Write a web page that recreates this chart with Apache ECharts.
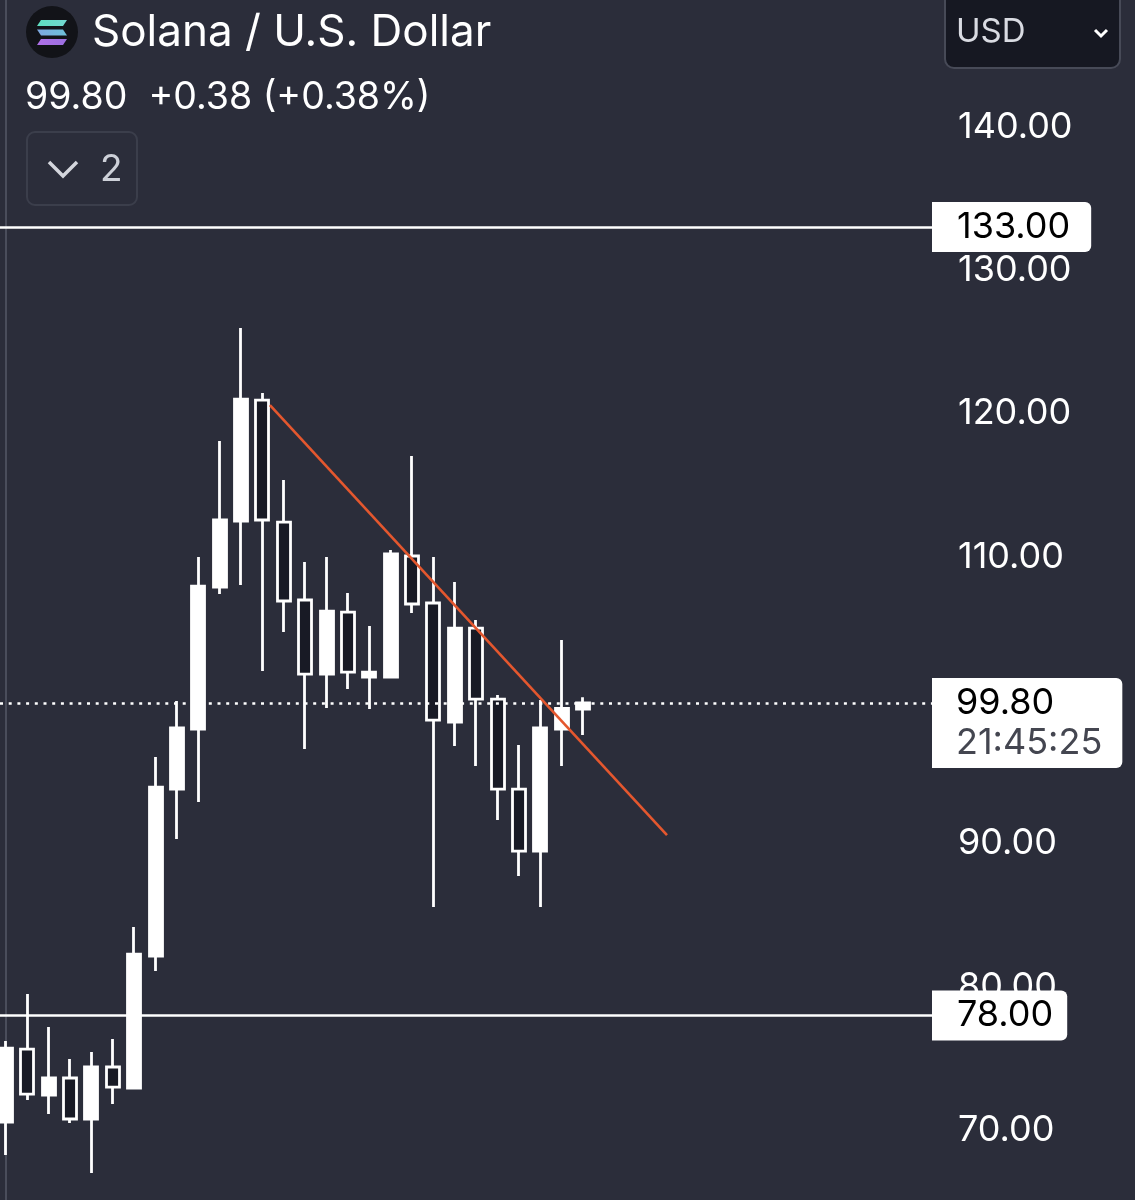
<!DOCTYPE html>
<html>
<head>
<meta charset="utf-8">
<script src="https://cdn.jsdelivr.net/npm/echarts@6/dist/echarts.min.js"></script>
<style>
  html, body { margin: 0; padding: 0; background: #2b2d3a; }
  #chart { width: 1135px; height: 1200px; }
</style>
</head>
<body>
<div id="chart"></div>
<script>
// ---- data ----
const opens  = [70.56,75.65,72.44,73.63,70.77,74.40,72.93,82.14,93.79,97.98,107.88,112.49,120.93,112.42,106.98,101.81,106.14,101.60,101.60,110.05,106.77,98.47,105.02,100.07,93.79,89.46,97.98,99.37];
const closes = [75.72,72.51,73.63,70.77,74.40,73.00,82.28,93.93,98.05,107.95,112.56,121.00,112.56,106.91,101.81,106.21,101.95,101.95,110.19,106.70,98.60,105.02,100.07,93.79,89.46,98.05,99.42,99.80];
const lows   = [68.26,72.09,71.12,70.49,67.00,71.81,72.93,81.09,90.30,92.88,107.40,108.02,102.02,104.74,96.58,99.44,100.77,99.37,101.53,106.07,85.56,96.79,95.40,91.63,87.72,85.56,95.40,97.56];
const highs  = [76.21,79.49,77.19,74.95,75.44,76.35,84.16,96.02,99.93,109.98,118.07,125.95,121.42,115.35,109.63,109.98,107.47,105.16,110.47,117.02,109.98,108.23,105.58,100.35,96.86,100.00,104.19,100.20];
const yTickValues = [70, 80, 90, 100, 110, 120, 130, 140];
const levelLines = [133, 78];
const lastPrice = 99.80;
const countdown = '21:45:25';
const trendX = [12.35, 30.93];
const trendY = [120.58, 90.58];
const titleText = 'Solana / U.S. Dollar';
const quoteText = '99.80  +0.38 (+0.38%)';

const candleData = opens.map((o, i) => [i, o, closes[i], lows[i], highs[i]]);
const trendData = trendX.map((x, i) => [x, trendY[i]]);

const FONT = 'Inter, "Noto Sans", sans-serif';
const chart = echarts.init(document.getElementById('chart'));

const whiteBox = (padR) => ({
  show: true, position: 'end', distance: 0,
  backgroundColor: '#ffffff', color: '#000000',
  fontFamily: FONT, fontSize: 36, lineHeight: 40,
  padding: [5, padR, 5, 25], borderRadius: [0, 6, 6, 0]
});

chart.setOption({
  animation: false,
  backgroundColor: '#2b2d3a',
  grid: { left: 0, right: 203, top: 0, bottom: 0 },
  xAxis: {
    type: 'value', min: -0.2808, max: 43.33, show: false
  },
  yAxis: {
    type: 'value', position: 'right', min: 65.12, max: 148.84,
    axisLine: { show: true, lineStyle: { color: '#4a4d5b', width: 2 } },
    axisTick: { show: false },
    splitLine: { show: false },
    axisLabel: {
      customValues: yTickValues,
      margin: 26, color: '#ffffff', fontFamily: FONT, fontSize: 36,
      formatter: v => v.toFixed(2)
    }
  },
  series: [
    {
      type: 'candlestick',
      data: candleData,
      barWidth: 13.5,
      itemStyle: {
        color: '#ffffff', color0: '#181a25',
        borderColor: '#ffffff', borderColor0: '#ffffff',
        borderWidth: 2.8
      },
      markLine: {
        symbol: 'none', silent: true,
        data: [
          { yAxis: levelLines[0], lineStyle: { color: '#ffffff', width: 2.6, type: 'solid' },
            label: Object.assign(whiteBox(21), { formatter: '133.00' }) },
          { yAxis: levelLines[1], lineStyle: { color: '#ffffff', width: 2.6, type: 'solid' },
            label: Object.assign(whiteBox(14), { formatter: '78.00' }) },
          { yAxis: lastPrice, lineStyle: { color: '#ffffff', width: 2.6, type: [3, 5.7], cap: 'butt' },
            label: {
              show: true, position: 'end', distance: 0, offset: [0, 20],
              backgroundColor: '#ffffff', padding: [5, 20, 5, 24], borderRadius: [0, 6, 6, 0],
              formatter: '{a|' + lastPrice.toFixed(2) + '}\n{b|' + countdown + '}',
              rich: {
                a: { color: '#000000', fontFamily: FONT, fontSize: 36, lineHeight: 40 },
                b: { color: '#444650', fontFamily: FONT, fontSize: 36, lineHeight: 40 }
              }
            } }
        ]
      }
    },
    {
      type: 'line',
      data: trendData,
      symbol: 'none',
      lineStyle: { color: '#e4572e', width: 2.6 },
      z: 5
    }
  ],
  graphic: [
    { type: 'circle', shape: { cx: 52, cy: 32, r: 26 }, style: { fill: '#121318' } },
    { type: 'polygon', shape: { points: [[41,20],[67,20],[63,26],[37,26]] },
      style: { fill: new echarts.graphic.LinearGradient(0,0,1,0,[{offset:0,color:'#5ee0c0'},{offset:1,color:'#72d6cf'}]) } },
    { type: 'polygon', shape: { points: [[37,29.5],[63,29.5],[67,35.5],[41,35.5]] },
      style: { fill: new echarts.graphic.LinearGradient(0,0,1,0,[{offset:0,color:'#7fa8e0'},{offset:1,color:'#6cc0d8'}]) } },
    { type: 'polygon', shape: { points: [[41,39],[67,39],[63,45],[37,45]] },
      style: { fill: new echarts.graphic.LinearGradient(0,0,1,0,[{offset:0,color:'#b070e8'},{offset:1,color:'#9b6fe0'}]) } },
    { type: 'text', x: 92, y: 33, style: { text: titleText, font: '44px ' + FONT, fill: '#ffffff', textVerticalAlign: 'middle' } },
    { type: 'text', x: 25, y: 98, style: { text: quoteText, font: '37.5px ' + FONT, fill: '#ffffff', textVerticalAlign: 'middle' } },
    { type: 'rect', shape: { x: 27, y: 132, width: 110, height: 73, r: 8 }, style: { fill: 'none', stroke: '#3b3e4b', lineWidth: 2 } },
    { type: 'polyline', shape: { points: [[49,162],[63,176],[77,162]] }, style: { stroke: '#d4d6dd', lineWidth: 3.5, fill: 'none' } },
    { type: 'text', x: 100, y: 170, style: { text: '2', font: '37px ' + FONT, fill: '#cdd0d8', textVerticalAlign: 'middle' } },
    { type: 'rect', shape: { x: 945, y: -12, width: 175, height: 80, r: 9 }, style: { fill: '#161822', stroke: '#474a57', lineWidth: 2 } },
    { type: 'text', x: 956, y: 32, style: { text: 'USD', font: '33px ' + FONT, fill: '#d9dbe2', textVerticalAlign: 'middle' } },
    { type: 'polyline', shape: { points: [[1095,30],[1101,36],[1107,30]] }, style: { stroke: '#ffffff', lineWidth: 3, fill: 'none' } }
  ]
});
</script>
</body>
</html>
